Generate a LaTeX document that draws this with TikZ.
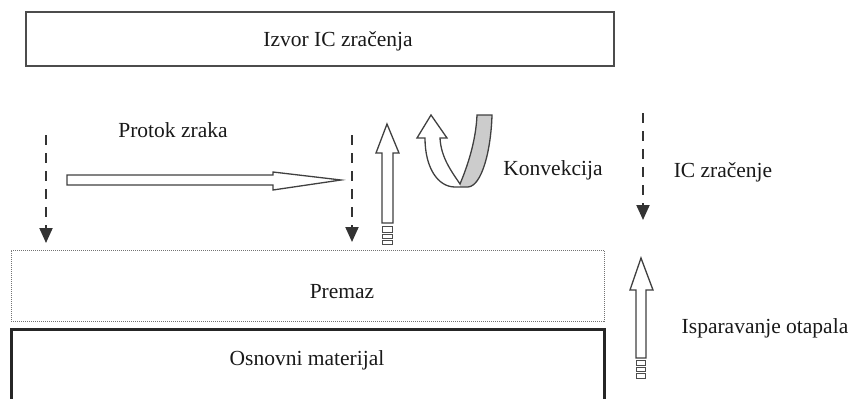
\documentclass[tikz,border=0pt]{standalone}
\usepackage{fontspec}
\setmainfont{Liberation Serif}
\usetikzlibrary{arrows.meta}
\begin{document}
\begin{tikzpicture}[x=1pt,y=-1pt,
  lbl/.style={font=\fontsize{21.5}{24}\selectfont, inner sep=0pt, text=black!90},
  hollow/.style={draw=black!75, line width=1.3pt, fill=white, line join=miter},
  tinybox/.style={draw=black!70, line width=0.9pt, fill=white},
  dasharrow/.style={draw=black!80, line width=2pt, dash pattern=on 10pt off 8pt,
    -{Triangle[width=13pt,length=15pt]}},
  srcbox/.style={draw=black!70, line width=2pt, inner sep=0pt},
  coatbox/.style={draw=black!55, line width=1pt, dash pattern=on 1pt off 1pt, inner sep=0pt},
  basebox/.style={draw=black!85, line width=3pt, inner sep=0pt},
  ]
\useasboundingbox (0,0) rectangle (852,399);

% boxes
\node[srcbox, minimum width=588pt, minimum height=54pt] (src) at (320,39) {};
\node[lbl] (srct) at (338,41) {Izvor IC zračenja};
\node[coatbox, minimum width=593pt, minimum height=71pt] (coat) at (307.5,285.5) {};
\node[lbl] (coatt) at (342,292) {Premaz};
\node[basebox, minimum width=593pt, minimum height=80pt] (base) at (307.5,369) {};
\node[lbl] (baset) at (307,360) {Osnovni materijal};

% labels
\node[lbl] (air) at (173,130) {Protok zraka};
\node[lbl] (conv) at (553,170) {Konvekcija};
\node[lbl] (ir) at (723,172) {IC zračenje};
\node[lbl] (evap) at (765,328) {Isparavanje otapala};

% dashed arrows
\coordinate (d1s) at (46,135); \coordinate (d1e) at (46,243);
\coordinate (d2s) at (352,135); \coordinate (d2e) at (352,242);
\coordinate (d3s) at (643,113); \coordinate (d3e) at (643,220);
\draw[dasharrow] (d1s) -- (d1e);
\draw[dasharrow] (d2s) -- (d2e);
\draw[dasharrow] (d3s) -- (d3e);

% horizontal hollow arrow
\draw[hollow] (67,175) -- (273,175) -- (273,172) -- (341,180) -- (273,190) -- (273,185) -- (67,185) -- cycle;

% vertical hollow arrow 1
\draw[hollow] (382,223) -- (382,153) -- (376,153) -- (387,124) -- (399,153) -- (393,153) -- (393,223) -- cycle;
\draw[tinybox] (382.5,226.5) rectangle (392.5,232);
\draw[tinybox] (382.5,234) rectangle (392.5,238.5);
\draw[tinybox] (382.5,240.5) rectangle (392.5,244.5);

% vertical hollow arrow 2
\draw[hollow] (636,358) -- (636,290) -- (630,290) -- (641,258) -- (653,290) -- (646,290) -- (646,358) -- cycle;
\draw[tinybox] (636.5,360.5) rectangle (645.5,365);
\draw[tinybox] (636.5,367) rectangle (645.5,371.5);
\draw[tinybox] (636.5,373.5) rectangle (645.5,378);

% curved convection arrow
\fill[black!20] (460,184) .. controls (468,165) and (476,140) .. (477,115) -- (492,115)
  .. controls (491,150) and (482,186) .. (468,187) -- (460,187) -- cycle;
\draw[hollow, fill=none] (425,138) .. controls (425,168) and (438,187) .. (455,187) -- (468,187)
  .. controls (482,186) and (491,150) .. (492,115) -- (477,115)
  .. controls (476,140) and (468,165) .. (460,184)
  .. controls (452,172) and (441,158) .. (440,138) -- (447,138) -- (431,115) -- (417,138) -- cycle;
\end{tikzpicture}
\end{document}
